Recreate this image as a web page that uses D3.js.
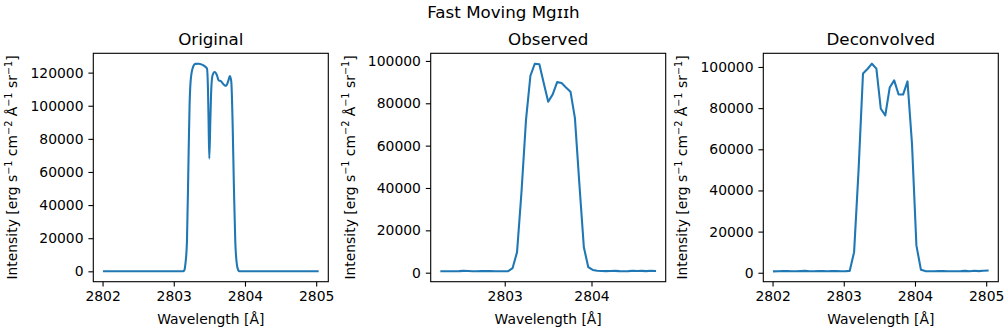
<!DOCTYPE html>
<html>
<head>
<meta charset="utf-8">
<script src="https://cdn.jsdelivr.net/npm/d3@7"></script>
<style>
	body { margin: 0; background: #fff; }
	svg text { font-family: 'DejaVu Sans', sans-serif; fill: #000; }
</style>
</head>
<body>
<div id="chart"></div>
<script>
// ---- data ----
const origWave = [2802.020, 2802.500, 2803.000, 2803.130, 2803.150, 2803.161, 2803.185, 2803.208, 2803.222, 2803.236,
	2803.264, 2803.302, 2803.349, 2803.396, 2803.433, 2803.466, 2803.480, 2803.489, 2803.499, 2803.513,
	2803.527, 2803.545, 2803.573, 2803.607, 2803.629, 2803.663, 2803.700, 2803.733, 2803.761, 2803.789,
	2803.808, 2803.826, 2803.845, 2803.864, 2803.888, 2803.905, 2803.920, 2804.000, 2804.500, 2805.020];
const origFlux = [0, 0, 0, 0, 800, 3600, 17700, 70000, 100300, 114400,
	122500, 125300, 125400, 124800, 123900, 122500, 110400, 90200, 68100, 90200,
	110400, 118400, 120400, 118400, 115400, 114800, 112800, 112000, 114400, 118000,
	114400, 90200, 50000, 17700, 3600, 800, 0, 0, 0, 0];

const obsWave = [2802.270, 2802.321, 2802.373, 2802.424, 2802.475, 2802.527, 2802.578, 2802.629, 2802.680, 2802.732,
	2802.783, 2802.834, 2802.886, 2802.937, 2802.988, 2803.040, 2803.091, 2803.142, 2803.193, 2803.245,
	2803.296, 2803.347, 2803.399, 2803.450, 2803.501, 2803.553, 2803.604, 2803.655, 2803.706, 2803.758,
	2803.809, 2803.860, 2803.912, 2803.963, 2804.014, 2804.066, 2804.117, 2804.168, 2804.219, 2804.271,
	2804.322, 2804.373, 2804.425, 2804.476, 2804.527, 2804.579, 2804.630, 2804.681, 2804.732];
const obsFlux = [700, 650, 650, 700, 750, 850, 800, 700, 650, 750,
	800, 750, 700, 700, 650, 700, 2200, 9700, 38000, 72000,
	93000, 98700, 98400, 89500, 80700, 84200, 90000, 89600, 87500, 85500,
	73000, 42000, 12000, 2600, 1300, 900, 800, 750, 800, 850,
	750, 700, 750, 900, 800, 850, 750, 900, 850];

const decWave = [2802.020, 2802.083, 2802.145, 2802.208, 2802.270, 2802.333, 2802.395, 2802.458, 2802.520, 2802.583,
	2802.645, 2802.708, 2802.770, 2802.833, 2802.895, 2802.958, 2803.020, 2803.083, 2803.145, 2803.208,
	2803.270, 2803.333, 2803.395, 2803.458, 2803.520, 2803.583, 2803.645, 2803.708, 2803.770, 2803.833,
	2803.895, 2803.958, 2804.020, 2804.083, 2804.145, 2804.208, 2804.270, 2804.333, 2804.395, 2804.458,
	2804.520, 2804.583, 2804.645, 2804.708, 2804.770, 2804.833, 2804.895, 2804.958, 2805.020];
const decFlux = [700, 750, 800, 800, 750, 700, 800, 900, 750, 700,
	850, 800, 750, 800, 850, 750, 700, 900, 10000, 50000,
	96800, 99000, 101600, 99200, 79700, 76500, 90000, 93500, 86600, 86600,
	93000, 62700, 13300, 1500, 800, 700, 750, 800, 850, 750,
	700, 750, 800, 900, 750, 1000, 800, 1000, 1100];

const wideTicks = [2802, 2803, 2804, 2805];
const obsTicks = [2803, 2804];
const origYTicks = [0, 20000, 40000, 60000, 80000, 100000, 120000];
const yTicks = [0, 20000, 40000, 60000, 80000, 100000];

const titles = ['Original', 'Observed', 'Deconvolved'];
const suptitle = 'Fast Moving Mg\u026a\u026ah';
const xLabel = 'Wavelength [Å]';
// y label pieces: [text, superscript?]
const yLabelParts = [['Intensity [erg s', false], ['\u22121', true], [' cm', false], ['\u22122', true],
	[' Å', false], ['\u22121', true], [' sr', false], ['\u22121', true], [']', false]];

// ---- layout ----
let svgWidth = 1007;
let svgHeight = 331;
let plotTop = 53.3;
let plotH = 228.4;
let plotW = 235;
let lefts = [93.3, 430.7, 763.3];
let fontSize = 13.9;

let svg = d3.select('#chart').append('svg')
	.attr('width', svgWidth)
	.attr('height', svgHeight);

svg.append('text')
	.attr('x', svgWidth / 2)
	.attr('y', 18)
	.attr('text-anchor', 'middle')
	.attr('font-size', 16.7)
	.text(suptitle);

function padded(arr) {
	let ext = d3.extent(arr);
	let r = ext[1] - ext[0];
	return [ext[0] - 0.05 * r, ext[1] + 0.05 * r];
}

function drawPanel(i, wave, flux, xTicks, yTickVals, curve) {
	let left = lefts[i];
	let bottom = plotTop + plotH;
	let data = wave.map((w, j) => [w, flux[j]]);

	let x = d3.scaleLinear()
		.domain(padded(wave))
		.range([left, left + plotW]);
	let y = d3.scaleLinear()
		.domain(padded(flux))
		.range([bottom, plotTop]);

	let g = svg.append('g').classed('panel', true);

	let line = d3.line()
		.x(d => x(d[0]))
		.y(d => y(d[1]))
		.curve(curve);

	g.append('path')
		.datum(data)
		.attr('d', line)
		.attr('fill', 'none')
		.attr('stroke', '#1f77b4')
		.attr('stroke-width', 2.08)
		.attr('stroke-linejoin', 'round')
		.attr('stroke-linecap', 'square');

	let ax = g.append('g')
		.attr('transform', `translate(0, ${bottom})`)
		.call(d3.axisBottom(x).tickValues(xTicks).tickFormat(d3.format('d'))
			.tickSize(4.9).tickPadding(4.9).tickSizeOuter(0));
	let ay = g.append('g')
		.attr('transform', `translate(${left}, 0)`)
		.call(d3.axisLeft(y).tickValues(yTickVals).tickFormat(d3.format('d'))
			.tickSize(4.9).tickPadding(4.9).tickSizeOuter(0));
	[ax, ay].forEach(a => {
		a.select('.domain').remove();
		a.attr('font-size', fontSize).attr('font-family', 'DejaVu Sans');
		a.selectAll('line').attr('stroke', '#000').attr('stroke-width', 1.1);
	});

	g.append('rect')
		.attr('x', left)
		.attr('y', plotTop)
		.attr('width', plotW)
		.attr('height', plotH)
		.attr('fill', 'none')
		.attr('stroke', '#000')
		.attr('stroke-width', 1.1);

	g.append('text')
		.attr('x', left + plotW / 2)
		.attr('y', plotTop - 8.5)
		.attr('text-anchor', 'middle')
		.attr('font-size', 16.7)
		.text(titles[i]);

	g.append('text')
		.attr('x', left + plotW / 2)
		.attr('y', 323.5)
		.attr('text-anchor', 'middle')
		.attr('font-size', fontSize)
		.text(xLabel);

	let yl = g.append('text')
		.attr('transform', `translate(${left - 76}, ${plotTop + plotH / 2}) rotate(-90)`)
		.attr('text-anchor', 'middle')
		.attr('font-size', fontSize);
	let raised = false;
	yLabelParts.forEach(p => {
		let t = yl.append('tspan').text(p[0]);
		if (p[1]) {
			t.attr('font-size', 9.7).attr('dy', -5.6);
			raised = true;
		} else if (raised) {
			t.attr('dy', 5.6);
			raised = false;
		}
	});
}

drawPanel(0, origWave, origFlux, wideTicks, origYTicks, d3.curveMonotoneX);
drawPanel(1, obsWave, obsFlux, obsTicks, yTicks, d3.curveLinear);
drawPanel(2, decWave, decFlux, wideTicks, yTicks, d3.curveLinear);
</script>
</body>
</html>
